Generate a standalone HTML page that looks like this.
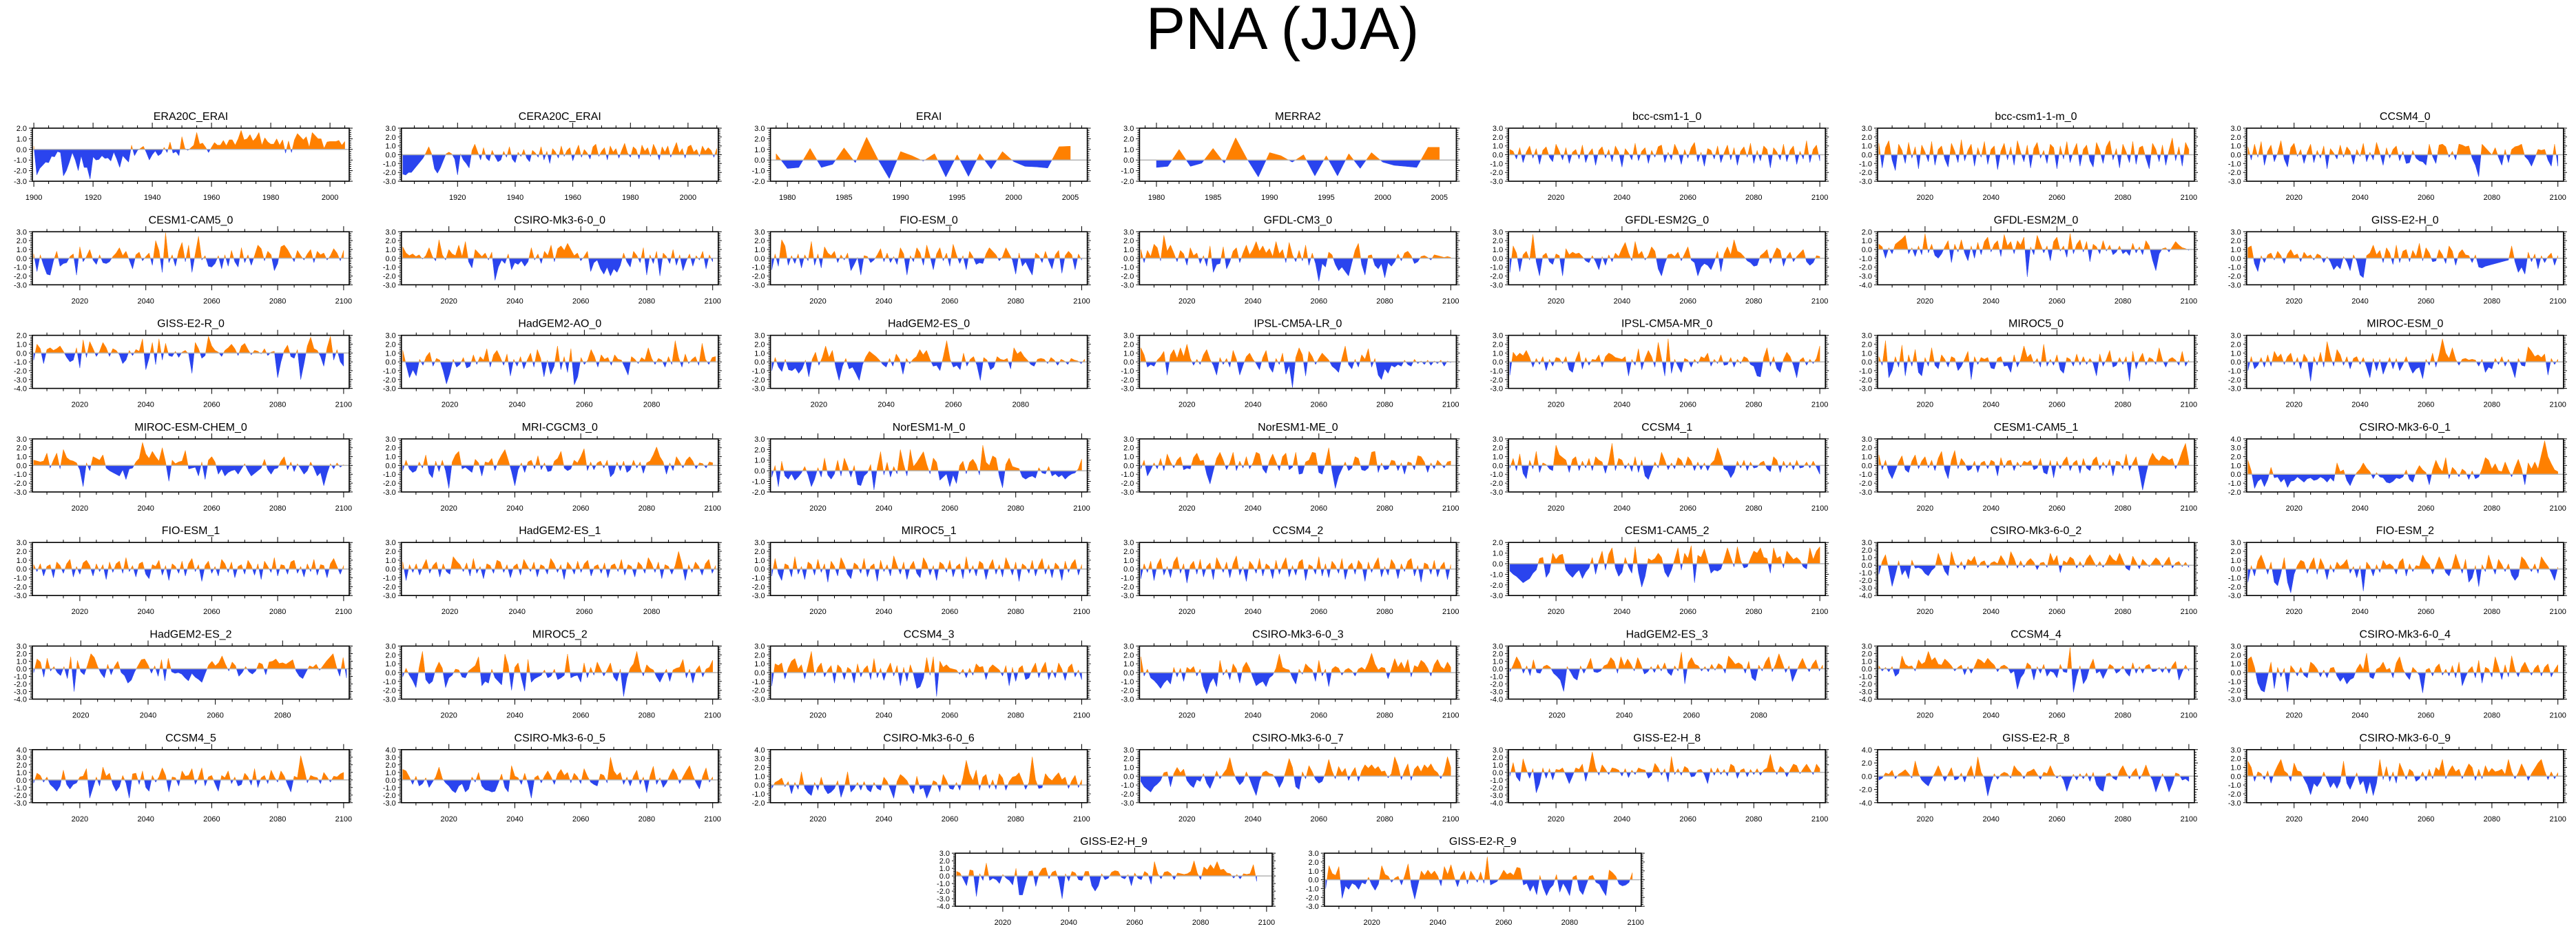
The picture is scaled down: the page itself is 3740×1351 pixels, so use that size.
<!DOCTYPE html>
<html><head><meta charset="utf-8"><title>PNA (JJA)</title>
<style>
html,body{margin:0;padding:0;background:#fff;}
svg{display:block;font-family:"Liberation Sans",Arial,sans-serif;}
</style></head>
<body>
<svg id="fig" width="3740" height="1351" viewBox="0 0 3740 1351" xmlns="http://www.w3.org/2000/svg">
<rect x="0" y="0" width="3740" height="1351" fill="#fff"/>
<text x="1862" y="71" font-size="86" text-anchor="middle" fill="#000">PNA (JJA)</text>
</svg>
<script>
// ---------- data ----------
const era20c = [0.3,-2.4,-1.8,-1.5,-1.2,-1.25,-0.65,-0.7,-0.2,-0.3,-2.5,-2.0,-1.2,-0.3,-1.0,-2.0,-0.6,-1.7,-1.7,-2.8,-0.7,-1.0,-0.95,-0.6,-0.85,-0.8,-1.1,-0.25,-0.9,-1.7,-0.6,-0.9,-1.2,0.4,-0.6,-0.1,0.1,0.3,-0.3,-1.0,-0.5,-0.15,-0.6,-0.4,0.2,-0.3,0.7,-0.35,-0.2,-0.6,1.2,0.1,-0.1,0.15,0.4,1.6,0.5,0.6,0.2,-0.3,0.2,0.65,0.4,0.4,0.85,0.35,0.9,0.9,0.4,1.0,1.8,0.9,1.0,1.4,0.8,1.1,1.6,0.4,1.1,0.7,0.5,0.5,1.0,0.4,0.9,-0.35,0.8,-0.3,0.9,1.5,1.2,0.9,1.2,0.2,1.6,1.3,1.0,1.0,0.1,0.7,0.75,0.75,0.75,0.85,0.4,0.75];
const cera20c = [-2.2,-2.3,-2.0,-2.0,-1.6,-1.2,-0.8,-0.4,0.2,0.9,0.1,-1.6,-2.1,-1.5,-0.7,0.1,0.3,0.1,-0.5,-2.3,0.1,-0.6,-1.0,-1.5,0.5,1.2,0.3,-0.6,0.8,-0.4,-0.7,0.5,-0.2,-0.8,-0.6,0.4,-0.3,0.9,-0.5,-0.9,0.3,-0.2,0.6,-0.4,-0.8,0.5,0.2,-0.3,0.9,-0.6,0.4,-1.0,0.7,0.3,-0.4,1.0,-0.2,0.5,0.8,-0.7,0.3,1.1,-0.3,0.6,0.2,-0.5,0.9,1.2,-0.2,0.4,0.8,-0.6,1.0,0.3,0.7,-0.4,0.5,1.3,0.2,-0.3,0.9,0.6,-0.5,1.1,0.4,0.8,-0.2,1.2,0.5,-0.6,0.9,0.3,1.0,-0.3,0.6,1.4,0.2,0.7,-0.4,0.9,1.1,0.3,0.6,-0.2,1.0,0.4,0.8,0.5,-0.3,0.7];
const erai = [0.6,-0.8,-0.7,1.1,-0.7,-0.4,1.15,-0.25,2.15,0.05,-1.75,0.8,0.4,-0.1,0.6,-1.6,0.5,-1.55,0.6,-0.85,0.8,-0.15,-0.6,-0.65,-0.75,1.25,1.3];
const merra2 = [-0.7,-0.6,1.0,-0.6,-0.3,1.1,-0.3,2.1,0.1,-1.6,0.7,0.4,-0.2,0.5,-1.5,0.4,-1.5,0.6,-0.8,0.7,-0.2,-0.5,-0.6,-0.7,1.2,1.2];
const bcc_0 = [0.6,0.4,-0.5,0.8,-0.9,0.3,1.0,-0.4,0.7,-1.1,0.5,0.9,-0.3,-0.8,1.2,0.4,-0.6,0.8,-1.0,0.3,0.6,-0.5,1.1,-0.9,0.2,0.7,-1.2,0.5,0.9,-0.4,0.6,-0.8,1.0,0.3,-1.4,0.7,0.2,-0.6,1.3,-0.7,0.4,0.8,-1.0,0.5,-0.3,0.9,1.1,-0.9,0.3,-0.6,1.2,0.4,-1.1,0.6,-0.4,0.8,1.4,-0.8,0.3,-1.3,0.7,0.5,-0.5,1.0,-0.9,0.2,1.1,-0.6,0.8,-1.2,0.4,0.9,-0.3,1.3,-1.0,0.5,-0.7,1.0,0.6,-1.5,0.8,0.3,-0.6,1.2,-0.8,0.5,1.0,-1.1,0.4,-0.5,1.6,-0.9,0.6,1.1,-0.7];
const bccm_0 = [1.3,-1.5,0.8,1.6,-0.6,-1.8,1.2,0.5,-1.0,1.4,-0.4,0.9,-1.6,1.1,0.3,-0.8,1.5,-1.2,0.6,1.0,-0.5,-1.4,1.3,0.4,-0.9,1.7,-0.7,0.5,1.2,-1.3,0.8,-0.3,1.5,-1.1,0.6,1.0,-1.7,0.4,1.3,-0.6,0.9,-1.2,1.6,0.3,-0.8,1.1,-1.5,0.7,1.4,-0.4,0.5,-1.0,1.2,0.8,-1.6,1.0,-0.5,1.5,-0.9,0.4,1.3,-1.3,0.6,1.1,-0.7,-1.4,1.4,0.5,-1.0,0.9,1.6,-0.6,0.7,-1.5,1.2,0.3,-0.9,1.5,-1.1,0.8,1.0,-0.4,-1.6,1.3,0.6,-0.8,1.1,-1.2,0.5,1.9,-0.7,0.9,-1.3,1.4,0.6];
const ccsm4_0 = [0.9,-0.6,1.2,-0.3,1.5,-1.2,0.4,1.1,-0.8,0.2,1.6,-0.5,-1.4,0.8,1.3,-0.2,0.6,-1.0,0.3,1.2,-0.9,0.5,-0.4,1.0,-1.6,0.7,0.2,-0.5,1.1,-0.3,0.9,0.4,-1.1,0.6,-0.2,1.3,-0.8,0.3,-0.6,1.4,0.2,-1.2,0.8,-0.4,0.6,1.0,-0.7,0.4,-1.0,-0.9,0.5,-0.4,-0.7,-0.8,-1.2,1.2,-0.2,-1.0,1.1,1.2,0.9,-0.3,0.4,-0.6,1.2,1.1,0.9,1.0,-0.4,-1.2,-2.5,1.2,0.8,0.4,0.0,0.8,-0.3,-1.2,0.6,-0.9,0.6,0.9,1.0,1.2,-0.2,-0.6,-1.3,-0.4,0.6,0.5,0.6,-0.6,-1.3,1.2,-1.3];
const cesm_0 = [0.5,-1.5,0.4,-0.8,-1.8,-1.9,-0.3,0.8,-0.9,-0.6,-0.5,0.2,0.5,-1.9,1.3,-0.4,0.2,1.0,-0.2,-0.7,0.4,-0.5,-0.6,-0.4,0.2,0.6,1.2,0.3,0.8,-0.2,-1.2,0.4,0.7,-0.3,0.2,0.6,-0.8,2.0,0.9,-1.6,2.9,-0.5,0.4,-0.9,0.8,1.8,-0.4,1.5,-1.6,0.5,2.5,-0.2,0.3,-0.9,-1.0,-0.6,0.3,-1.2,0.4,-0.9,0.9,-0.4,-1.0,1.2,-0.5,0.4,-0.8,0.3,1.5,1.1,-0.3,0.8,0.4,-1.4,-0.6,1.3,1.5,1.0,0.3,-0.4,0.9,0.3,-0.2,0.5,1.0,-0.5,0.8,0.4,0.6,-0.2,0.3,1.1,0.6,-0.3,0.9];
const csiro_0 = [1.3,0.6,0.3,0.5,0.2,0.4,-0.1,0.3,1.2,0.2,-0.3,2.1,0.4,-0.2,1.0,0.5,0.3,1.5,0.2,1.9,-0.4,-1.1,1.0,0.6,0.2,0.6,-0.2,0.7,-2.5,-1.0,-0.2,-0.6,0.5,-1.3,-0.5,-0.7,-0.3,-0.9,-0.4,1.2,-0.2,0.5,-0.6,0.8,0.3,1.5,-0.4,1.1,1.4,0.9,1.7,1.0,0.3,0.6,-0.3,0.2,0.8,-1.5,-0.5,-0.2,-1.2,-1.8,-1.0,-2.0,-1.2,-1.6,-0.8,0.6,-0.4,-1.0,0.8,0.3,-0.5,1.2,-1.9,0.4,-0.6,0.8,-2.0,0.6,0.2,-0.6,1.0,-0.8,0.4,-1.4,-0.3,0.5,-0.9,0.3,-0.2,0.8,-1.2,0.4,-0.4];
const fio_0 = [-1.3,0.5,-0.9,2.1,1.4,-0.8,0.3,-0.6,0.5,-1.1,0.4,-0.3,1.9,-0.8,0.5,-1.1,1.3,0.6,0.3,0.8,-0.5,0.4,-0.2,0.6,-1.4,-0.7,0.1,-1.9,0.3,0.2,-0.5,-0.2,0.4,1.1,-0.4,0.6,-0.5,0.2,-0.7,1.2,0.5,-1.9,0.3,-0.4,1.2,0.6,-0.8,1.5,0.2,-1.3,0.5,1.2,-0.3,0.6,-0.9,1.6,0.4,-0.6,0.3,-1.3,0.8,0.2,-0.7,-0.5,-0.6,0.5,1.2,0.8,0.4,-0.3,0.2,1.2,0.5,-0.2,-1.8,0.6,-0.9,-0.4,-1.2,-1.9,0.6,0.3,-0.5,0.8,-0.3,-1.2,0.4,0.9,-1.7,0.3,0.8,0.4,-1.3,0.5,-0.2];
const gfdlcm3_0 = [1.0,-0.5,0.9,0.2,1.6,1.2,-0.3,2.6,0.8,1.5,0.6,-0.4,0.9,0.5,-0.8,1.2,0.3,0.6,-0.6,0.3,-0.9,1.4,-1.6,-0.7,-0.6,1.3,-1.2,-0.4,0.8,1.2,-0.5,0.6,1.5,0.4,1.0,1.9,0.8,1.4,0.6,1.1,0.2,1.9,0.5,1.0,-0.5,1.8,0.4,-0.4,0.9,-0.3,1.5,-0.8,0.6,-0.6,-2.6,-0.6,-1.0,0.7,0.4,-0.7,-1.4,-1.0,-1.5,-2.0,-0.5,0.9,1.7,-0.7,-1.9,0.3,0.4,-0.8,-1.2,-0.6,-2.2,-0.5,-0.9,-0.4,0.5,-0.3,0.6,0.8,0.3,-0.6,-0.4,0.2,0.3,0.1,-0.2,0.4,0.3,0.2,0.1,0.2,0.1];
const gfdlesm2g_0 = [-1.6,1.4,0.6,-1.5,0.4,0.8,-0.2,2.7,-0.4,-2.0,0.3,0.6,-0.4,-0.7,0.5,0.3,-2.0,1.1,0.4,0.7,0.5,0.6,0.2,-0.3,-0.5,0.3,-0.4,-1.3,0.2,-0.8,0.4,-0.4,0.6,0.2,1.1,1.8,0.6,-0.3,1.9,0.4,0.8,-0.2,0.3,1.3,0.8,-1.2,-2.0,-0.6,0.4,0.5,0.2,0.7,-0.3,0.5,1.3,-0.2,-0.5,-2.0,-1.0,-0.6,-0.8,-1.3,-0.4,0.8,-1.5,0.5,1.3,0.4,2.1,0.8,0.6,0.2,-0.3,-0.5,-0.9,-0.8,0.3,0.6,1.0,-0.6,0.4,1.2,0.9,-0.9,0.2,0.7,-0.4,0.2,0.6,1.0,-0.4,-0.8,-0.5,0.3,0.2];
const gfdlesm2m_0 = [0.6,0.3,-1.0,0.2,-0.5,0.6,0.9,1.2,1.6,-0.5,0.2,-0.8,0.4,-0.6,1.8,-0.4,0.6,-0.7,-1.0,-0.5,0.3,1.0,-1.5,0.6,-0.3,1.1,-0.4,-1.3,0.4,-1.0,0.8,-0.6,0.9,1.4,-0.3,0.6,1.0,-0.8,1.7,0.4,0.9,-0.5,1.0,0.5,1.4,-3.1,0.3,-0.6,1.6,0.6,-0.4,0.4,-1.3,0.9,1.4,-0.2,0.4,-0.9,1.8,-0.5,0.6,1.1,-0.3,0.9,-1.4,0.6,0.3,-0.5,1.0,-0.2,0.5,-0.6,-0.3,0.4,-0.5,-0.2,-0.7,0.7,-0.4,0.3,-0.6,1.0,0.4,-1.2,-2.4,-0.5,0.1,0.2,-0.3,0.3,0.9,0.5,0.2,0.1,-0.1];
const gissh_0 = [1.2,1.4,-0.6,-1.5,0.3,-0.5,0.4,0.6,-0.2,0.8,0.3,-0.6,0.5,1.0,0.3,0.5,-0.4,0.7,0.2,0.4,-0.2,0.5,0.3,-0.5,0.2,-0.4,-1.3,-0.8,-1.2,0.2,-0.4,-1.4,0.4,-0.3,-1.9,-2.2,0.3,0.6,1.5,0.4,0.9,-0.5,1.2,0.6,-0.7,1.5,-0.5,0.8,1.0,-0.4,0.9,0.2,1.7,-0.3,1.2,0.6,-0.4,-0.3,1.0,0.4,-0.6,1.4,0.8,-0.8,0.6,1.0,0.4,0.3,-0.5,0.4,-1.0,-1.1,-0.9,-0.8,-0.7,-0.6,-0.5,-0.4,-0.3,-0.2,1.4,-0.4,-1.6,-1.0,-1.8,0.7,-0.4,0.5,-1.2,0.3,-0.5,0.2,0.6,-0.8,0.3];
const gissr_0 = [-0.8,1.0,0.5,-1.2,0.4,0.6,0.3,0.5,0.8,0.2,-0.5,-1.0,-0.8,0.6,-1.7,1.5,-0.5,1.3,0.5,-0.4,0.2,1.2,0.6,-0.4,0.5,0.3,-0.2,-1.2,-0.8,0.3,-0.3,0.4,0.2,1.6,-1.9,-0.6,1.2,-1.3,1.6,-0.8,1.1,-0.3,-0.4,0.2,-0.5,0.1,0.3,-0.1,-2.3,1.2,0.5,-0.6,-0.3,1.9,0.8,0.3,0.1,-0.4,0.3,0.6,1.0,0.5,-0.3,0.8,1.1,0.4,-0.2,0.3,0.2,-0.1,0.5,-0.3,0.1,0.2,-2.8,-1.0,0.3,0.9,-0.4,-0.6,0.4,-3.0,-1.2,0.8,1.8,0.5,0.3,-0.4,-1.5,0.6,1.9,-0.8,0.4,-1.0,-1.5];
const hadao_0 = [1.3,-0.3,-1.8,-0.9,-1.6,0.3,-0.4,0.6,1.1,-0.5,0.4,0.2,-1.0,-2.5,-1.3,0.3,-0.6,-0.3,0.5,-0.7,-0.5,0.8,-0.3,0.6,0.2,1.5,-0.6,0.8,1.3,0.5,-0.4,0.9,-1.6,0.3,-0.5,0.6,-0.8,0.2,1.0,-0.6,1.4,0.4,-1.7,0.2,-1.4,-0.5,1.8,-0.9,0.6,-1.2,1.5,-2.6,-1.7,0.5,-0.3,0.2,1.4,0.6,-0.6,0.8,0.3,0.5,-0.4,0.8,0.3,0.2,-0.6,-1.5,0.6,0.3,-0.2,0.5,0.2,1.6,0.4,-0.3,0.4,0.2,-0.6,0.6,-0.3,2.4,0.5,-0.6,0.9,-0.2,0.3,0.6,-0.4,2.1,0.3,-0.3,0.5,0.6,-0.3];
const hades_0 = [-1.0,0.5,-0.6,-1.1,0.3,-0.9,-1.0,-0.7,-1.3,-0.8,0.2,-1.7,0.3,1.1,-0.4,0.5,1.8,0.5,1.3,-0.6,-2.1,-0.5,0.4,-0.8,-0.6,-1.3,-2.1,-0.3,0.6,1.2,0.9,0.6,0.2,-0.3,-0.6,0.4,-0.5,0.9,0.3,-1.4,0.4,-0.2,0.3,0.6,1.4,0.8,1.3,0.3,-0.5,-0.4,-1.0,0.6,2.4,0.3,-0.6,-0.4,-0.9,1.0,-0.5,0.3,0.6,-0.4,-2.1,0.5,0.2,-0.9,-0.6,0.6,0.3,0.2,0.4,-0.8,1.6,0.9,1.2,0.6,0.2,-0.3,-0.5,0.3,0.4,0.3,-0.2,0.5,0.2,-0.4,0.3,0.1,-0.3,0.4,0.2,0.1,-0.2,0.3];
const ipsllr_0 = [1.6,0.8,-0.6,-0.3,-0.5,0.2,0.6,1.2,-1.5,0.8,1.4,0.4,1.6,0.6,2.0,0.4,-0.4,0.3,-0.3,0.8,1.4,0.3,-0.4,-1.5,0.5,-0.3,0.4,-0.6,1.3,0.3,-1.5,-0.4,0.6,1.0,0.3,-0.2,-0.9,0.5,1.3,-0.6,-1.2,0.4,-0.3,1.0,-1.4,-0.4,-2.9,0.5,1.6,0.8,-1.6,1.2,0.6,-0.3,0.4,1.0,0.6,0.2,-0.5,-0.8,-1.2,0.4,1.8,-0.3,-0.8,0.3,-0.6,0.8,0.3,1.5,-0.6,0.4,-1.5,-2.0,-0.8,-1.3,-0.4,-0.6,-0.3,-0.5,0.2,-0.3,-0.5,0.3,-0.2,0.1,-0.3,0.2,-0.4,0.1,-0.2,0.2,-0.5,0.1,-0.1];
const ipslmr_0 = [-1.5,1.1,0.6,1.0,0.7,1.3,0.5,-0.6,0.4,-0.3,0.6,-1.0,0.3,-0.5,0.5,0.4,-0.2,0.6,-0.9,-1.2,0.3,1.2,-0.8,0.5,-0.4,0.3,0.2,0.8,-0.6,0.6,1.0,0.8,0.5,0.4,0.3,0.6,-1.6,0.3,-0.4,1.5,-0.9,0.4,1.3,0.6,-0.6,2.2,0.4,-1.6,2.6,-1.3,0.3,-0.5,-1.2,0.4,0.2,-0.6,0.3,-0.2,0.6,0.4,1.0,-0.5,0.3,-0.2,0.8,-0.4,-0.3,0.5,-0.6,0.3,-0.2,0.6,0.4,-0.3,-0.5,-1.6,-1.7,0.5,1.6,-0.5,0.6,-0.8,-1.2,0.3,1.1,0.6,-0.4,-1.8,0.2,0.5,-0.4,0.3,-0.2,0.4,1.8];
const miroc5_0 = [0.6,-0.4,2.4,-1.8,-1.0,0.6,-0.6,1.9,-1.6,0.8,-0.5,1.4,-1.2,-1.6,0.5,-0.5,1.6,-0.4,-0.8,0.8,0.3,-0.6,0.6,0.4,-1.0,-0.5,0.3,1.2,-2.0,0.6,-0.3,0.5,0.3,0.5,-0.7,-0.8,0.4,0.6,-0.5,-0.4,-1.2,0.8,-0.6,0.3,1.8,0.5,0.9,-0.2,0.4,-0.6,2.0,-0.5,0.3,-0.4,0.8,-0.9,-1.3,0.5,0.3,-0.5,0.9,-0.4,0.6,-0.3,0.4,-0.2,-1.6,0.9,-0.5,0.3,1.3,-0.6,-0.4,0.5,-0.3,0.6,-2.2,1.2,-0.8,0.3,1.0,-0.4,0.5,0.3,-0.3,1.6,0.2,-0.6,0.3,0.5,0.2,-0.4,1.2,-0.5,0.2];
const mirocesm_0 = [-1.0,0.6,-0.8,-0.4,0.5,-0.6,0.8,-0.5,1.2,0.5,0.9,-0.3,0.6,1.0,-0.4,0.5,-0.8,0.9,0.3,-2.2,0.6,-0.4,1.1,-0.6,2.3,0.7,-0.5,1.4,0.8,-0.4,0.6,-0.8,0.4,0.6,-0.3,0.5,-0.6,-1.8,0.4,-1.0,0.3,-1.4,-0.4,0.5,-0.8,0.4,-1.0,-0.3,0.6,-0.5,-1.3,-0.8,-0.6,-1.9,0.3,-0.4,1.0,-0.6,0.8,2.6,1.0,0.4,1.6,0.3,-0.4,0.3,0.4,0.2,0.3,0.2,-0.5,0.3,-1.2,-0.6,-0.8,0.4,-0.3,0.6,-0.5,0.3,-0.6,-1.8,0.4,-0.4,-0.5,1.7,1.2,0.6,0.8,0.5,0.9,-1.5,0.4,-0.3,0.3];
const mirocchem_0 = [0.6,0.5,0.4,0.5,1.4,-0.3,0.6,1.4,-0.4,1.8,0.9,0.6,0.5,0.3,-0.5,-2.4,0.3,-0.6,1.0,0.8,0.6,1.2,-0.3,-0.6,-0.8,-1.0,-1.2,-0.5,-1.6,-0.4,-0.3,0.4,0.8,2.6,1.3,0.8,1.6,1.0,0.5,2.0,0.4,-1.8,0.6,0.2,0.4,0.5,1.7,-0.4,-0.3,-0.2,-1.2,0.4,-1.6,0.6,1.0,0.4,-1.0,-0.4,-1.2,-0.8,-0.6,-0.5,-1.0,-0.4,0.2,-0.6,-1.2,-0.9,-0.6,-0.3,0.7,-0.5,-1.0,-0.4,-0.3,0.5,1.0,-0.5,0.4,-0.7,0.2,-0.4,-1.0,-0.6,0.4,-0.3,-1.2,-0.8,-2.3,-0.9,0.2,-0.4,0.3,-0.2,0.1];
const mri_0 = [-0.6,0.6,-0.4,-0.8,-0.6,0.4,-0.3,1.2,-0.9,-1.4,0.5,-0.7,0.6,-0.6,-2.6,0.4,1.2,1.6,-0.4,-0.2,-0.5,-0.8,0.7,0.3,-1.2,0.4,0.3,0.8,-0.6,0.5,1.2,1.8,0.6,-0.7,-2.3,-0.5,0.3,-0.8,0.4,0.6,-0.4,1.1,-0.5,0.3,-0.7,-0.6,0.5,0.8,1.6,-0.3,-0.6,-0.4,0.6,0.3,1.0,1.9,-0.6,0.4,-0.5,0.3,0.5,-0.3,0.6,-1.3,-0.9,0.4,-0.6,0.5,-0.8,-0.5,0.6,-0.3,0.4,-0.9,0.3,0.5,1.2,2.1,1.0,0.4,-1.0,0.3,-0.6,1.0,0.4,-0.3,0.6,1.0,0.5,-0.4,0.3,0.2,-0.3,0.4,0.3];
const noresm_0 = [-0.6,0.5,-1.5,0.9,-0.5,-0.8,-0.3,-0.9,-0.6,-0.2,0.4,-0.4,-1.5,-0.8,0.3,-0.6,1.2,-0.4,-0.8,-0.3,1.0,-0.5,1.2,0.4,-0.6,0.5,-1.3,-1.4,-0.5,-0.2,0.6,-1.8,0.3,1.8,-0.4,0.8,-0.6,0.4,-0.3,2.0,0.6,-0.5,2.0,0.4,0.8,1.3,1.8,0.6,-0.3,1.2,0.8,-0.9,-0.6,-0.3,-1.5,-0.4,-1.2,0.5,0.9,-0.3,0.8,1.1,0.6,-0.4,2.4,0.8,0.5,1.4,1.2,-0.5,-1.6,0.6,1.2,0.4,0.3,0.2,-0.6,-0.8,-0.6,-0.5,-0.7,0.3,-0.2,-0.3,0.4,-0.5,-0.3,-0.6,-0.4,-0.8,-0.5,-0.3,-0.2,0.2,1.1];
const noresmme_0 = [-0.4,0.6,-1.2,-0.5,0.3,-0.4,0.8,-0.6,1.3,0.4,-0.3,0.6,1.0,-0.5,-0.3,-0.4,0.9,1.4,0.5,0.6,-1.0,-2.1,-0.6,0.8,1.5,0.6,-0.5,0.3,1.5,-0.6,0.5,-0.3,1.0,-0.4,0.3,1.5,1.3,-0.4,-0.9,0.5,1.3,0.4,-0.6,1.0,1.4,-0.5,-0.2,1.5,-1.0,-0.9,0.4,0.6,1.5,1.4,-0.8,-1.0,0.3,2.0,-0.6,-2.6,-1.2,-0.4,0.4,-0.6,-0.3,1.0,0.8,-0.5,-0.6,-0.3,1.5,1.6,-0.8,0.3,-0.5,-0.4,0.6,0.5,-0.6,0.3,-1.0,0.4,0.3,-0.5,1.1,1.0,0.4,-0.8,0.3,-0.4,0.6,0.2,-0.3,0.4,0.5];
const ccsm4_1 = [-0.3,0.8,-0.6,1.3,-0.9,-1.5,0.6,-0.4,1.6,-0.8,0.3,0.1,-0.4,-0.6,2.3,1.2,0.9,0.6,-0.8,0.7,1.0,-0.6,0.5,-0.3,0.8,-0.6,1.0,0.6,0.4,-0.9,0.5,2.5,-0.6,0.8,0.6,-0.4,0.3,-0.7,1.0,-0.8,0.6,-1.2,-1.6,-0.6,0.4,-0.3,1.5,0.6,-0.5,0.3,-0.4,0.9,0.6,-0.3,1.0,0.5,-0.6,0.4,-0.5,0.3,-0.6,0.2,0.6,2.0,1.0,-0.4,-0.6,-1.4,-0.8,0.5,-0.3,0.6,-0.6,0.4,-0.3,-0.2,0.3,0.5,-0.4,-0.7,1.0,0.6,-0.8,0.5,-0.3,0.4,-0.5,0.6,-0.3,-0.2,0.4,-0.3,0.5,-0.2,-1.0];
const cesm_1 = [1.2,-0.5,0.6,-0.8,-1.5,-0.6,0.4,1.1,-0.5,-0.8,0.5,1.2,-0.4,0.5,1.0,-0.3,0.6,-0.6,0.8,1.6,-0.5,-1.5,0.6,1.7,-0.4,0.8,0.3,-0.6,-0.4,0.5,-0.8,0.3,0.5,-0.4,0.6,0.4,-1.2,0.9,-0.3,0.5,0.6,-0.6,0.4,-0.2,0.5,0.3,0.6,-0.5,-0.3,0.8,-0.8,-1.0,0.6,-1.4,0.5,-0.4,0.5,1.0,-0.6,0.3,0.6,-0.9,0.8,-0.3,-0.6,0.6,1.0,-0.5,0.4,-0.3,0.7,-1.2,0.5,0.4,-0.4,1.3,-0.6,0.3,1.0,-0.8,-2.8,-1.0,0.6,1.4,0.8,0.5,1.1,0.9,0.6,0.8,-0.4,0.5,1.6,2.5,0.4];
const csiro_1 = [1.6,0.4,-1.6,-0.8,-0.5,-1.4,-0.6,0.8,-0.4,-0.3,-0.9,-0.5,-1.5,-0.8,-0.7,-0.3,-0.6,-0.9,-0.5,-0.4,-0.7,-0.6,-0.3,-0.5,-0.9,-0.4,-0.8,1.3,0.3,0.5,-0.7,-1.3,-0.4,0.2,0.6,1.3,0.7,0.3,-0.5,0.2,-0.3,-0.4,-0.9,-1.0,-0.8,-0.4,-0.5,-0.3,0.5,-0.6,-0.9,0.3,1.0,0.5,0.2,-1.2,0.5,1.6,0.8,0.3,1.9,-0.5,0.8,0.4,-0.3,0.6,0.3,-0.6,0.4,-0.5,-0.3,0.6,1.9,1.6,0.6,1.2,0.4,0.3,1.4,0.5,-0.3,0.8,1.7,0.6,-1.2,1.3,0.6,1.4,0.6,2.2,3.8,2.0,1.2,0.5,0.3];
const fio_1 = [0.5,-0.3,0.6,-0.8,0.3,0.5,-1.0,0.8,0.4,-0.5,0.6,1.1,-0.9,0.3,-0.6,0.7,1.0,0.4,-0.8,0.6,-0.3,0.5,-1.2,0.8,-0.4,0.6,0.9,-0.5,1.3,-0.3,0.4,-0.9,0.6,0.8,-0.6,-1.1,0.5,0.3,1.0,-0.7,0.4,-1.3,0.6,0.3,-0.5,0.9,-0.8,0.6,1.2,-0.3,0.5,-1.4,0.4,0.9,-0.5,0.3,-0.8,1.1,0.6,-0.4,0.8,-1.0,0.3,0.5,-0.6,1.0,0.4,-0.7,0.6,-1.2,0.9,0.3,-0.4,1.3,-0.8,0.5,0.4,-0.6,0.8,1.0,-0.5,0.3,-0.9,0.6,-0.3,1.1,-0.7,0.5,0.4,-1.0,0.6,1.2,0.3,-0.6,0.4];
const hades_1 = [0.8,-1.3,0.5,-0.4,0.6,-0.7,0.3,1.1,-0.5,0.4,0.8,-0.9,0.6,-0.3,-0.6,1.4,0.9,0.5,-0.3,0.7,-0.8,1.2,-0.5,0.3,-1.1,0.6,0.4,-0.5,1.0,0.8,-0.4,0.5,-1.0,0.3,0.6,-0.7,1.1,0.4,-0.3,0.8,-0.9,0.5,0.3,-0.6,1.2,0.6,-0.4,0.5,-1.2,0.8,0.3,-0.6,0.9,-0.4,0.6,1.0,-0.8,0.3,0.5,-0.5,0.7,-1.0,0.4,0.6,-0.3,1.1,-0.7,0.5,0.3,-0.9,0.8,0.4,-0.5,1.3,0.6,-0.4,0.8,-1.1,0.5,0.3,-0.6,0.4,2.0,0.6,-1.3,0.5,-0.4,0.8,0.3,-0.7,0.6,1.1,-0.5,0.4];
const miroc5_1 = [-0.8,1.2,-0.5,-1.3,0.6,0.4,-0.9,1.4,-0.6,0.3,-1.2,0.8,0.5,-0.7,1.1,-0.4,0.6,-1.5,0.9,0.3,-0.8,1.3,0.5,-0.6,-1.1,0.7,0.4,-0.5,1.2,-0.9,0.3,0.6,-1.4,1.0,-0.3,0.5,-0.8,1.5,0.4,-0.6,0.8,-1.2,0.3,0.9,-0.5,-1.0,1.3,0.6,-0.7,0.4,-1.3,0.8,0.5,-0.4,1.0,-0.9,0.3,0.6,-1.1,1.4,-0.5,0.4,-0.8,0.9,0.6,-1.2,0.3,1.1,-0.6,0.5,-0.9,1.3,0.4,-0.7,0.8,-1.4,0.6,0.3,-0.5,1.0,-0.8,0.4,1.2,-0.6,0.5,-1.0,0.7,0.3,-1.3,0.9,-0.4,0.6,1.1,-0.7,0.5];
const ccsm4_2 = [-1.1,0.6,-0.4,0.9,-1.3,0.5,1.2,-0.7,0.3,-1.0,0.8,1.4,-0.5,0.6,-1.6,0.4,0.9,-0.6,1.1,-0.9,0.3,0.7,-1.2,1.3,0.5,-0.4,0.8,-1.0,0.6,1.5,-0.7,0.3,-1.4,0.9,0.4,-0.5,1.2,-0.8,0.6,0.3,-1.1,1.0,-0.6,0.5,1.3,-0.9,0.4,-0.7,0.8,1.1,-1.3,0.5,0.3,-0.6,1.4,-0.8,0.6,-1.0,0.9,0.4,-0.5,1.2,-1.2,0.3,0.7,-0.6,1.0,0.5,-1.4,0.8,-0.4,0.6,1.3,-0.9,0.3,-0.7,1.1,0.5,-1.1,0.6,-0.3,0.9,1.2,-0.8,0.4,-1.5,0.7,0.5,-0.6,1.0,-0.9,0.3,0.8,-1.2,0.5];
const cesm_2 = [-0.7,-1.0,-1.2,-1.5,-1.8,-1.6,-1.4,-0.9,-0.6,0.5,0.6,-1.3,-0.8,1.0,0.4,0.8,0.9,-0.6,-1.0,-1.3,-0.9,-0.6,-1.4,-0.8,-0.4,0.6,-1.0,0.3,1.2,-0.6,0.9,1.5,-0.4,-1.2,-0.8,0.6,-0.3,-0.9,1.6,-0.8,-2.2,-1.2,0.5,0.3,0.5,1.0,0.6,-0.8,-1.3,-0.6,0.4,1.5,-0.6,1.0,0.5,1.7,-1.8,0.8,0.6,1.4,0.3,-0.9,-0.6,-0.7,-0.5,0.4,1.5,0.6,-0.3,1.6,0.3,-0.4,-0.3,0.5,1.2,1.0,1.5,0.6,0.5,-0.9,1.5,0.5,0.7,-0.4,1.2,0.8,0.4,0.6,0.3,-0.3,-0.5,1.5,0.4,1.2,1.6];
const csiro_2 = [-1.2,0.5,1.4,-0.6,-2.8,-1.2,0.6,-1.3,-0.6,-1.8,0.7,-0.4,-0.3,-0.5,-1.1,-1.4,-0.7,-0.3,1.6,0.4,-0.8,-1.4,1.8,0.3,-0.4,0.5,-0.6,0.8,0.5,1.2,-0.3,0.4,0.6,-0.4,0.3,0.5,0.2,1.3,0.6,-0.4,1.8,0.9,-0.4,0.6,-0.3,0.5,0.9,0.4,-0.6,0.3,0.4,-0.3,1.6,0.5,1.3,-1.0,0.6,0.3,1.1,0.8,-0.4,0.5,-0.3,0.8,1.4,0.6,-0.2,0.5,-0.3,0.4,1.4,0.8,0.5,1.6,0.6,-0.4,-0.7,1.2,0.4,-0.5,0.8,0.3,-0.2,0.4,1.0,0.6,-0.3,0.5,1.1,-0.4,0.3,0.5,-0.2,0.4,-0.3];
const fio_2 = [-1.5,0.4,-0.8,0.9,1.6,0.6,-0.6,0.8,-1.5,-1.9,-0.5,1.3,-1.5,-2.7,-0.6,0.4,1.0,0.8,-0.5,0.6,1.3,-0.6,1.2,0.4,-1.2,0.5,-0.4,0.8,0.3,0.6,1.1,-0.5,0.3,-1.0,0.4,-2.5,0.8,0.3,-0.8,0.5,-0.4,1.0,0.4,0.6,0.3,-0.6,0.8,1.2,-0.8,0.6,-0.3,0.4,0.3,1.6,0.9,0.5,-0.6,0.4,1.4,0.6,-0.4,-0.8,0.3,1.7,0.6,-0.5,1.1,-1.5,-1.0,0.4,-2.0,0.5,-0.3,1.6,0.4,-0.6,1.1,0.5,-0.3,0.6,-0.7,-1.3,-0.8,1.4,1.0,0.3,-0.3,0.6,-0.5,1.4,0.8,0.3,-0.4,-1.3,0.2];
const hades_2 = [-0.5,1.3,0.9,-1.1,1.4,-0.3,0.3,-0.5,-0.9,0.3,-1.3,1.6,-3.0,1.1,-0.4,-0.8,0.5,2.0,1.5,0.3,-0.6,-1.2,0.6,-0.8,0.3,1.0,-0.5,-0.9,-1.9,-1.5,-0.4,0.4,1.2,1.3,0.5,-0.6,0.4,-1.0,1.2,-1.6,1.4,-0.4,-0.6,-0.5,-0.7,-1.2,-1.6,-0.6,-1.1,-1.4,-1.8,-0.6,0.5,1.0,0.4,0.8,1.7,0.6,-0.3,0.9,0.4,-1.0,-0.5,0.3,-0.4,-0.7,-0.3,0.8,0.6,-0.8,0.9,1.0,1.3,0.7,0.8,0.6,0.9,1.2,-0.3,-1.0,-1.3,-0.4,0.4,0.2,0.6,-0.2,0.4,1.0,1.5,2.0,0.3,-1.0,1.5,-1.2,0.8,0.5,0.7];
const miroc5_2 = [-0.5,0.5,-0.3,-0.9,-1.7,0.6,2.4,-0.8,-1.3,-1.0,0.4,1.2,0.5,-1.7,-0.6,-0.3,0.4,0.3,-0.5,-0.6,0.2,0.5,0.8,1.8,-1.5,-1.0,-1.2,0.4,-0.6,-1.0,-1.4,2.1,0.8,-2.0,0.6,1.1,-0.6,-2.1,1.5,-1.1,-0.7,-0.5,-0.3,0.3,-0.6,-0.4,0.4,-0.8,-0.6,-0.3,2.1,-0.6,-0.4,-0.3,-1.1,1.1,-0.6,0.6,-0.3,1.2,0.4,-0.4,0.3,1.1,-0.5,-1.0,0.4,-2.7,-0.6,0.5,1.0,2.4,0.5,-0.4,0.9,0.5,0.3,-0.5,-1.1,-0.3,0.4,-1.0,0.3,0.5,0.6,1.5,-0.6,0.4,-1.2,0.3,0.8,-0.5,0.4,0.6,1.4,0.5];
const ccsm4_3 = [-1.5,1.0,0.8,1.1,-0.7,0.5,1.3,1.6,0.4,0.9,-0.7,0.8,2.4,-0.4,0.6,1.1,-0.5,0.3,0.8,-1.2,0.9,0.5,-0.8,0.6,0.3,-1.2,1.0,-0.5,0.4,0.8,-0.8,1.6,-0.6,0.5,-0.9,0.3,1.1,-0.4,0.8,-1.5,0.6,-1.0,0.9,-0.2,-1.8,-1.6,-0.6,1.7,-0.3,1.8,-2.7,1.3,0.6,0.9,0.5,0.4,0.3,-0.2,0.4,-0.6,0.5,-0.3,1.0,0.6,0.7,-0.8,0.5,0.9,0.6,0.3,-0.4,0.8,-1.5,0.6,-1.0,0.5,0.8,-0.8,-0.6,0.4,1.1,-0.6,0.5,1.2,-0.8,0.3,-0.6,1.1,0.4,-0.9,0.6,1.0,-0.5,0.3,-0.8];
const csiro_3 = [1.8,-0.4,0.4,-0.6,-0.9,-1.3,-1.8,-1.2,-0.8,-1.3,0.6,-0.5,0.5,-1.0,0.6,0.3,0.7,-0.4,0.4,-1.5,-2.4,-1.2,-0.6,-1.6,1.4,-0.3,0.4,-0.8,1.0,0.4,-1.2,0.6,1.2,0.5,-0.6,-1.5,-1.2,-1.0,-1.6,-0.6,-0.3,0.5,2.1,0.6,0.4,0.3,-0.6,-1.3,0.4,-0.2,1.0,0.6,0.3,-1.0,1.4,-0.4,0.4,-1.6,0.4,0.7,0.5,-0.3,0.3,0.5,0.2,-0.4,0.4,0.6,0.3,1.1,2.2,1.0,0.3,0.6,0.5,-0.7,0.4,1.6,0.6,1.2,0.4,1.5,-0.5,0.8,0.6,1.4,1.1,0.5,-0.4,0.9,1.5,0.7,0.4,1.2,0.6];
const hades_3 = [-0.4,0.5,1.6,0.8,-0.6,0.4,-0.9,1.2,-0.5,-0.6,0.3,0.5,0.2,-0.6,-1.0,-1.5,-3.0,0.3,-0.4,-1.2,-1.5,0.4,-0.6,0.3,1.4,-0.4,-0.5,-0.3,0.4,0.6,1.5,1.0,-0.6,1.6,0.4,1.3,0.6,-0.3,1.5,0.5,-0.7,-0.4,0.3,-0.5,0.6,-0.3,0.8,-0.5,-0.9,0.4,-0.3,2.2,-2.0,0.8,1.5,0.6,0.4,-0.3,0.3,-0.4,0.6,-0.2,0.7,0.4,-0.6,1.7,1.2,0.6,0.8,0.5,-0.6,1.0,-1.2,-1.6,0.5,-0.3,0.9,1.6,-0.4,0.6,2.0,0.8,-0.5,0.4,-1.7,-0.6,0.5,1.4,0.3,-0.4,0.6,1.2,-0.3,0.5,0.2];
const ccsm4_4 = [0.4,-0.3,0.2,-0.4,0.3,-1.0,-0.6,1.7,0.6,0.3,0.4,-0.3,1.2,0.6,0.9,2.3,1.1,1.5,0.6,0.5,1.3,0.9,0.4,-0.3,0.2,0.5,-0.8,0.3,-0.6,0.3,1.3,1.1,0.7,1.4,0.9,0.5,-0.4,0.3,0.5,0.2,-0.6,-0.3,-2.7,-1.2,-0.6,0.8,0.4,-1.5,0.3,-0.6,0.6,-1.0,-0.3,-0.5,-1.2,0.6,-0.4,-0.5,2.8,-3.1,-1.0,0.4,-2.0,-1.3,0.3,1.3,-0.6,-0.3,-1.3,-0.4,0.6,0.3,-0.6,-0.3,0.4,-0.5,-1.0,0.8,-0.6,0.3,-0.6,0.4,0.6,-0.4,-0.3,0.2,-0.5,0.3,-0.6,0.4,1.0,-1.5,-0.4,0.5,-0.3,-1.1,0.3];
const csiro_4 = [1.5,1.8,0.6,-1.2,-2.0,-2.2,-0.4,1.2,-1.8,0.6,-0.5,0.5,-2.2,0.8,0.3,-0.4,0.6,-0.3,-0.6,1.2,0.9,0.4,-0.5,0.3,-0.6,0.5,0.6,-0.4,-1.0,-0.5,-1.3,-0.8,-0.6,0.4,1.0,0.3,2.2,-0.5,-0.7,0.4,0.6,1.2,0.3,0.5,-0.6,1.1,1.8,0.4,-0.3,-0.8,0.6,0.2,-0.3,-2.3,0.3,0.5,-0.4,0.6,1.0,-0.3,0.4,-0.4,0.8,-0.6,1.2,-1.5,-0.5,0.3,0.7,-0.6,1.4,-1.2,0.6,0.4,-0.5,1.8,0.6,-0.8,0.9,-0.5,1.9,0.3,-0.5,0.6,1.2,0.4,-0.3,0.5,0.9,-0.4,0.6,1.0,-0.5,0.3,0.9];
const ccsm4_5 = [-0.4,0.9,0.6,-0.3,0.4,-0.6,-1.0,-1.5,-0.8,1.3,-0.6,-1.2,-0.6,-0.4,0.4,0.5,1.5,-2.4,-1.0,0.4,-0.8,1.7,0.5,0.9,-0.6,-1.5,-0.9,0.6,-0.4,-2.4,0.8,0.9,-0.6,1.2,-1.0,-1.5,0.6,-0.3,0.4,1.6,0.6,-1.6,0.4,0.3,-0.8,1.2,0.5,0.6,1.5,-0.6,0.3,1.6,-0.8,0.4,0.6,-0.5,-1.5,0.6,0.3,1.2,-0.5,0.4,-0.8,-0.6,0.9,0.4,-0.7,1.5,-1.0,0.3,0.6,-0.5,1.3,0.4,-0.3,1.2,0.5,-0.6,-1.6,0.5,0.3,3.2,1.5,-0.4,0.6,0.4,0.3,-0.5,1.0,0.4,-0.3,0.5,0.4,0.8,1.0];
const csiro_5 = [1.4,1.2,0.4,-0.6,0.5,-0.8,-0.5,0.3,-1.0,-0.3,0.4,1.7,0.2,-0.4,-0.8,-1.4,-1.7,-0.8,-0.5,-1.6,-1.2,0.4,-0.3,1.0,-0.8,-1.3,-1.4,-1.6,-1.5,-0.4,0.8,-1.0,-1.6,1.9,0.5,0.3,-0.6,0.9,-0.5,-2.4,0.3,0.6,-0.4,0.5,1.2,0.4,-0.6,0.8,1.4,0.6,1.0,-0.4,0.9,0.4,-0.5,1.5,0.5,-0.3,-0.6,-0.8,0.8,0.6,-0.4,3.0,1.2,0.6,1.0,-0.6,0.4,-0.8,0.5,1.3,-0.6,0.4,-1.7,0.5,1.8,-0.6,0.3,-1.0,-0.4,0.6,1.5,0.8,-0.5,0.4,1.2,1.9,0.6,-0.4,-1.2,0.5,1.6,-0.3,0.4];
const csiro_6 = [-0.4,0.3,0.5,0.8,-0.2,0.4,-1.0,0.3,-0.5,1.5,-0.4,-0.9,-1.2,0.3,-0.6,0.9,-0.4,-1.0,-0.8,-0.4,0.5,-1.4,-0.3,1.5,-0.8,-0.4,0.3,-0.6,0.4,-0.5,-0.8,0.3,-0.4,-0.6,0.9,0.4,-0.5,-1.5,0.4,1.2,0.9,0.5,-0.3,-1.0,1.0,-0.5,-0.3,-1.5,-0.6,0.5,0.3,-0.8,1.2,0.5,-0.4,-0.5,0.3,-0.6,0.8,2.8,1.3,0.5,1.7,-0.6,0.9,1.2,-0.4,0.6,-0.5,1.3,0.8,-0.6,0.4,0.9,1.0,1.4,0.5,-0.5,0.3,3.2,0.6,-0.4,-0.3,1.3,0.8,0.5,1.0,1.4,0.6,0.9,-0.4,0.5,1.1,-0.3,0.6];
const csiro_7 = [-0.6,-1.2,-1.5,-1.8,-1.2,-0.9,-0.5,0.4,0.5,-1.2,0.3,1.0,0.4,0.8,-0.5,-1.0,-1.3,-0.4,-0.6,0.3,-0.8,-1.4,-0.5,0.6,-0.3,0.3,0.8,2.1,0.6,-0.4,-1.0,-0.6,0.5,-0.3,-1.3,-2.2,-0.6,0.4,0.6,0.3,0.2,-0.4,-1.3,-0.6,0.6,2.0,1.0,-1.2,-1.5,0.5,-0.3,1.2,0.5,-0.4,-0.8,-0.6,0.4,1.9,0.6,-0.3,1.1,0.4,0.9,-0.5,0.4,1.0,-0.6,0.6,1.3,0.9,1.3,0.8,1.1,0.5,0.6,-0.2,0.3,2.2,1.2,-0.4,0.6,1.4,-0.5,0.8,1.2,0.5,1.3,0.9,1.4,0.7,0.4,-0.3,0.5,2.2,1.0];
const gissh_8 = [-0.5,1.3,-0.6,-1.2,1.8,0.4,-0.8,0.5,-2.7,-1.5,0.6,-0.8,0.5,-1.0,0.4,0.3,0.6,-0.4,-1.5,-0.5,0.6,0.4,1.1,-1.2,0.5,2.7,0.6,-0.4,1.0,0.4,-0.3,0.6,0.5,0.3,-0.5,0.5,-0.7,0.3,-0.3,0.6,0.4,0.3,-0.8,-0.4,1.2,0.6,-0.4,0.5,-1.3,2.1,-0.3,0.5,-0.4,0.8,0.5,-0.6,-0.5,0.3,0.4,-0.3,-1.5,0.6,-0.4,0.6,-0.3,0.4,-0.5,1.1,0.8,-0.8,0.3,0.5,-0.6,0.4,-0.3,0.5,-0.4,0.3,0.6,2.4,0.5,-0.3,0.8,0.4,-0.6,0.3,1.1,0.9,-0.2,0.5,1.1,0.4,-0.3,1.1,0.5];
const gissr_8 = [-0.6,-0.3,0.5,0.3,0.9,-0.4,0.3,0.6,1.0,0.4,-0.3,2.3,0.4,-0.6,-1.1,-1.5,-0.4,0.5,1.6,0.4,-0.8,0.3,1.3,-0.6,-0.4,0.5,-0.9,0.6,1.6,-0.4,2.9,0.6,-0.3,-3.0,-1.0,0.4,-0.5,0.3,0.6,0.4,-0.3,1.6,0.9,0.5,-0.4,0.6,0.8,1.1,0.3,-0.5,0.6,0.4,1.6,0.4,-0.3,0.2,-0.6,-2.3,-0.8,0.3,-0.6,0.4,-0.4,0.5,-0.8,0.6,-1.3,-2.0,-2.3,0.3,0.5,-0.3,-0.6,0.8,1.6,0.5,-0.4,0.6,1.2,-0.5,0.4,1.7,0.3,-0.6,-2.4,-1.0,0.4,-0.8,-2.4,-1.2,0.5,0.3,-0.6,-0.4,-0.8];
const csiro_9 = [1.7,1.0,-0.6,0.5,0.3,-0.4,0.6,-0.8,0.4,1.2,1.9,0.6,0.3,-0.6,1.5,0.6,0.5,-0.3,-1.0,-2.1,-0.8,-1.2,-0.6,0.5,-0.4,-1.3,-0.7,-1.4,-0.6,1.7,-0.8,-1.5,-0.6,0.4,-1.0,-0.5,-2.0,-0.6,-2.2,-0.8,1.9,-0.4,1.1,-0.6,0.5,-0.8,1.5,0.6,-0.4,0.8,0.5,-0.6,-0.3,0.5,-0.5,0.8,-0.3,1.0,0.6,1.9,-0.3,0.6,1.2,0.5,0.8,-0.3,0.6,1.4,1.0,-0.5,0.8,-0.3,1.2,0.4,0.9,0.5,0.6,0.8,0.2,1.9,0.5,-0.3,0.4,1.4,0.6,-0.5,0.3,0.9,1.5,1.9,0.6,-0.4,0.5,-0.3,0.4];
const gissh_9 = [0.6,0.4,-0.4,-1.3,0.8,0.7,-2.7,0.3,-0.6,1.7,-0.6,-0.3,-0.5,-1.0,0.2,-0.3,-0.6,-1.2,1.0,-2.5,-2.5,-0.8,0.6,0.7,-1.4,0.3,1.0,1.1,-0.4,0.5,0.7,-0.6,-3.0,0.3,-0.7,0.6,0.4,-0.5,-0.6,0.6,0.6,-1.3,-2.0,-1.3,0.3,-0.5,-0.3,0.5,0.7,0.6,-0.2,-0.4,0.2,-1.3,0.4,-0.3,-0.5,0.6,0.3,-1.1,1.9,0.3,-0.4,0.5,0.6,0.3,-0.5,0.4,0.3,0.2,0.3,0.6,2.0,0.4,-0.5,1.2,0.8,1.5,0.9,1.9,0.8,0.9,0.4,0.3,-0.3,0.2,-0.4,0.3,0.2,0.3,1.5,-0.7];
const gissr_9 = [-1.0,1.6,0.7,0.5,1.5,-2.1,-0.7,-1.1,-0.4,-0.6,-1.1,-0.3,-0.5,0.3,-0.6,-1.2,-0.5,1.6,0.6,0.4,-0.3,0.2,0.4,-0.6,0.5,1.8,-0.7,-2.2,-0.6,1.0,0.5,1.1,0.6,1.0,0.4,-0.7,1.5,0.6,1.7,0.3,-0.8,0.4,1.0,-0.5,1.0,0.4,-0.3,0.9,-0.4,2.6,-0.6,-0.4,-0.2,0.4,1.1,0.6,0.8,0.5,1.4,1.3,-0.6,-0.4,-1.3,-0.6,-1.7,0.5,-0.9,-1.8,-1.0,-0.6,0.6,-1.4,-0.4,-1.0,-1.8,0.3,0.5,-1.2,-1.7,-0.6,0.4,0.5,-0.3,-0.5,-1.2,-1.8,1.1,0.8,0.4,-0.5,-0.7,-0.6,-0.3,0.8];

const panelNames = ["ERA20C_ERAI","CERA20C_ERAI","ERAI","MERRA2","bcc-csm1-1_0","bcc-csm1-1-m_0","CCSM4_0",
 "CESM1-CAM5_0","CSIRO-Mk3-6-0_0","FIO-ESM_0","GFDL-CM3_0","GFDL-ESM2G_0","GFDL-ESM2M_0","GISS-E2-H_0",
 "GISS-E2-R_0","HadGEM2-AO_0","HadGEM2-ES_0","IPSL-CM5A-LR_0","IPSL-CM5A-MR_0","MIROC5_0","MIROC-ESM_0",
 "MIROC-ESM-CHEM_0","MRI-CGCM3_0","NorESM1-M_0","NorESM1-ME_0","CCSM4_1","CESM1-CAM5_1","CSIRO-Mk3-6-0_1",
 "FIO-ESM_1","HadGEM2-ES_1","MIROC5_1","CCSM4_2","CESM1-CAM5_2","CSIRO-Mk3-6-0_2","FIO-ESM_2",
 "HadGEM2-ES_2","MIROC5_2","CCSM4_3","CSIRO-Mk3-6-0_3","HadGEM2-ES_3","CCSM4_4","CSIRO-Mk3-6-0_4",
 "CCSM4_5","CSIRO-Mk3-6-0_5","CSIRO-Mk3-6-0_6","CSIRO-Mk3-6-0_7","GISS-E2-H_8","GISS-E2-R_8","CSIRO-Mk3-6-0_9",
 "GISS-E2-H_9","GISS-E2-R_9"];
const panelSeries = [era20c,cera20c,erai,merra2,bcc_0,bccm_0,ccsm4_0,
 cesm_0,csiro_0,fio_0,gfdlcm3_0,gfdlesm2g_0,gfdlesm2m_0,gissh_0,
 gissr_0,hadao_0,hades_0,ipsllr_0,ipslmr_0,miroc5_0,mirocesm_0,
 mirocchem_0,mri_0,noresm_0,noresmme_0,ccsm4_1,cesm_1,csiro_1,
 fio_1,hades_1,miroc5_1,ccsm4_2,cesm_2,csiro_2,fio_2,
 hades_2,miroc5_2,ccsm4_3,csiro_3,hades_3,ccsm4_4,csiro_4,
 ccsm4_5,csiro_5,csiro_6,csiro_7,gissh_8,gissr_8,csiro_9,
 gissh_9,gissr_9];
const panelStart = [1900,1901,1979,1980];
const yMaxes = [2,3,3,3,3,3,3, 3,3,3,3,3,2,3, 2,3,3,3,3,3,3, 3,3,3,3,3,3,4, 3,3,3,3,2,3,3, 3,3,3,3,3,3,3, 4,4,4,3,3,4,3, 3,3];
const yMins  = [-3,-3,-2,-2,-3,-3,-3, -3,-3,-3,-3,-3,-4,-3, -4,-3,-3,-3,-3,-3,-3, -3,-3,-2,-3,-3,-3,-2, -3,-3,-3,-3,-3,-4,-3, -4,-3,-3,-3,-4,-4,-3, -3,-3,-2,-3,-4,-4,-3, -4,-3];

const NS = "http://www.w3.org/2000/svg";
const svg = document.getElementById("fig");
const L0 = 47, COLP = 535.8, W = 460, T0 = 186, ROWP = 150.3, H = 77;
function mk(tag, attrs, parent){ const e=document.createElementNS(NS,tag); for(const k in attrs) e.setAttribute(k,attrs[k]); (parent||svg).appendChild(e); return e; }

panelNames.forEach((name, i) => {
  let row = Math.floor(i/7), col = i%7, left;
  if (i >= 49) { row = 7; left = 1387 + (i-49)*COLP; } else { left = L0 + col*COLP; }
  const top = T0 + row*ROWP;
  const start = i < 4 ? panelStart[i] : 2006;
  const isHad = name.indexOf("HadGEM2") === 0;
  let xmin, xmax, majors, minorStep;
  if (i === 0 || i === 1) { xmin = i===0?1899.5:1900.5; xmax = i===0?2006.5:2010.5; majors = 20; minorStep = 5; }
  else if (i === 2 || i === 3) { xmin = 1978.5; xmax = 2006.5; majors = 5; minorStep = 1; }
  else { xmin = 2005.6; xmax = isHad ? 2099.8 : 2101.7; majors = 20; minorStep = 5; }
  const lastYear = i < 4 ? 9999 : (isHad ? 2099 : 2100);
  const data = panelSeries[i].filter((v, k) => start + k <= lastYear);
  const ymin = yMins[i], ymax = yMaxes[i];
  const xs = v => left + (v - xmin) / (xmax - xmin) * W;
  const ys = v => top + (ymax - v) / (ymax - ymin) * H;

  const g = mk("g", {});
  
  

  const t = mk("text", {x: left + W/2, y: top - 12, "font-size": 16, "text-anchor": "middle", fill: "#000"}, g);
  t.textContent = name;
  
  

  const cid = "c" + i;
  const defs = mk("defs", {}, g);
  const cpA = mk("clipPath", {id: cid + "a"}, defs);
  mk("rect", {x: left, y: top, width: W, height: ys(0) - top}, cpA);
  const cpB = mk("clipPath", {id: cid + "b"}, defs);
  mk("rect", {x: left, y: ys(0), width: W, height: top + H - ys(0)}, cpB);

  let d = "M" + xs(start).toFixed(1) + "," + ys(0).toFixed(1);
  data.forEach((v, k) => { d += " L" + xs(start + k).toFixed(1) + "," + ys(v).toFixed(1); });
  d += " L" + xs(start + data.length - 1).toFixed(1) + "," + ys(0).toFixed(1) + " Z";
  const pos = mk("path", {d: d, fill: "#ff8000", stroke: "#ff8000", "stroke-width": 0.5, "clip-path": "url(#" + cid + "a)"}, g);
  
  
  const neg = mk("path", {d: d, fill: "#2a44ee", stroke: "#2a44ee", "stroke-width": 0.5, "clip-path": "url(#" + cid + "b)"}, g);
  
  

  const zl = mk("line", {x1: left, x2: left + W, y1: ys(0), y2: ys(0), stroke: "#b4b4b4", "stroke-width": 1.5}, g);
  
  

  const fr = mk("rect", {x: left, y: top, width: W, height: H, fill: "none", stroke: "#000", "stroke-width": 1.6}, g);
  
  

  let tk = "";
  const first = Math.ceil(xmin / minorStep) * minorStep;
  for (let yr = first; yr <= xmax; yr += minorStep) {
    const x = xs(yr).toFixed(1), major = (yr % majors === 0);
    const len = major ? 8 : 4;
    tk += "M" + x + "," + top + "v-" + len + "M" + x + "," + (top + H) + "v" + len;
    if (major) {
      const lb = mk("text", {x: x, y: top + H + 27, "font-size": 11, "text-anchor": "middle", fill: "#000"}, g);
      lb.textContent = yr;
      
      
    }
  }
  const ystep = (ymax - ymin) >= 8 ? 2 : 1;
  for (let v = ymin; v <= ymax + 1e-9; v += 0.2 * ystep) {
    const y = ys(v).toFixed(1);
    const major = Math.abs(Math.round(v / ystep) * ystep - v) < 1e-6;
    const len = major ? 5 : 3;
    tk += "M" + left + "," + y + "h-" + len + "M" + (left + W) + "," + y + "h" + len;
  }
  for (let v = ymin; v <= ymax; v += ystep) {
    const lb = mk("text", {x: left - 8, y: ys(v) + 4, "font-size": 11, "text-anchor": "end", fill: "#000"}, g);
    lb.textContent = v.toFixed(1);
    
    
  }
  const tp = mk("path", {d: tk, stroke: "#000", "stroke-width": 1, fill: "none"}, g);
  
  
});
</script>
</body></html>
